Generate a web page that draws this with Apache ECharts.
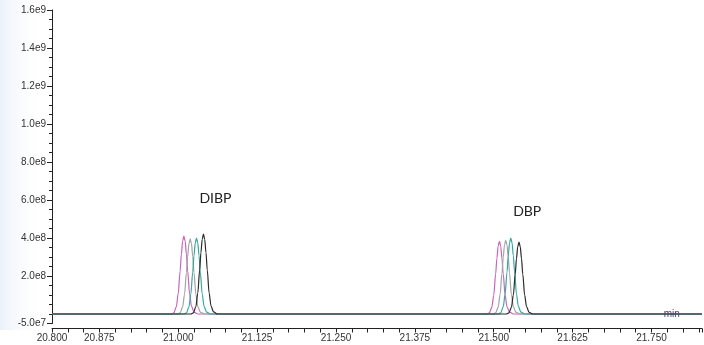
<!DOCTYPE html>
<html>
<head>
<meta charset="utf-8">
<script src="https://cdn.jsdelivr.net/npm/echarts@6/dist/echarts.min.js"></script>
<style>html,body{margin:0;padding:0;background:#fff}#c{width:704px;height:345px}</style>
</head>
<body>
<div id="c"></div>
<script>
// Retention time (min) and intensity arrays
const magentaT = [20.800,
  20.989, 20.993, 20.997, 21.000, 21.003, 21.005, 21.007, 21.009, 21.011, 21.013, 21.015, 21.018, 21.021, 21.025, 21.031,
  21.489, 21.493, 21.497, 21.500, 21.503, 21.505, 21.507, 21.509, 21.511, 21.513, 21.515, 21.518, 21.521, 21.525, 21.531,
  21.830];
const magentaV = [0,
  0, 0.06e8, 0.38e8, 1.07e8, 2.26e8, 3.15e8, 3.84e8, 4.10e8, 3.84e8, 3.15e8, 2.26e8, 1.07e8, 0.41e8, 0.10e8, 0,
  0, 0.06e8, 0.36e8, 1.00e8, 2.11e8, 2.93e8, 3.58e8, 3.82e8, 3.58e8, 2.93e8, 2.11e8, 1.00e8, 0.38e8, 0.10e8, 0,
  0];
const grayT = [20.800,
  20.999, 21.003, 21.007, 21.010, 21.013, 21.015, 21.017, 21.019, 21.021, 21.023, 21.025, 21.028, 21.031, 21.035, 21.041,
  21.499, 21.503, 21.507, 21.510, 21.513, 21.515, 21.517, 21.519, 21.521, 21.523, 21.525, 21.528, 21.531, 21.535, 21.541,
  21.830];
const grayV = [0,
  0, 0.06e8, 0.37e8, 1.03e8, 2.18e8, 3.03e8, 3.70e8, 3.95e8, 3.70e8, 3.03e8, 2.18e8, 1.03e8, 0.40e8, 0.10e8, 0,
  0, 0.06e8, 0.36e8, 1.02e8, 2.14e8, 2.98e8, 3.63e8, 3.88e8, 3.63e8, 2.98e8, 2.14e8, 1.02e8, 0.39e8, 0.10e8, 0,
  0];
const tealT = [20.800,
  21.009, 21.013, 21.017, 21.020, 21.023, 21.025, 21.027, 21.029, 21.031, 21.033, 21.035, 21.038, 21.041, 21.045, 21.051,
  21.507, 21.511, 21.515, 21.518, 21.521, 21.523, 21.525, 21.527, 21.529, 21.531, 21.533, 21.536, 21.539, 21.543, 21.549,
  21.830];
const tealV = [0,
  0, 0.06e8, 0.37e8, 1.05e8, 2.21e8, 3.07e8, 3.74e8, 4.00e8, 3.74e8, 3.07e8, 2.21e8, 1.05e8, 0.40e8, 0.10e8, 0,
  0, 0.06e8, 0.37e8, 1.05e8, 2.21e8, 3.07e8, 3.74e8, 4.00e8, 3.74e8, 3.07e8, 2.21e8, 1.05e8, 0.40e8, 0.10e8, 0,
  0];
const blackT = [20.800,
  21.020, 21.024, 21.028, 21.031, 21.034, 21.036, 21.038, 21.040, 21.042, 21.044, 21.046, 21.049, 21.052, 21.056, 21.062,
  21.520, 21.524, 21.528, 21.531, 21.534, 21.536, 21.538, 21.540, 21.542, 21.544, 21.546, 21.549, 21.552, 21.556, 21.562,
  21.830];
const blackV = [0,
  0, 0.06e8, 0.39e8, 1.10e8, 2.32e8, 3.23e8, 3.93e8, 4.20e8, 3.93e8, 3.23e8, 2.32e8, 1.10e8, 0.42e8, 0.11e8, 0,
  0, 0.06e8, 0.35e8, 0.99e8, 2.09e8, 2.91e8, 3.55e8, 3.79e8, 3.55e8, 2.91e8, 2.09e8, 0.99e8, 0.38e8, 0.09e8, 0,
  0];

const xTickLabels = [20.800, 20.875, 21.000, 21.125, 21.250, 21.375, 21.500, 21.625, 21.750];
const yTickLabels = [-5.0e7, 2.0e8, 4.0e8, 6.0e8, 8.0e8, 1.0e9, 1.2e9, 1.4e9, 1.6e9];

const peakNames = ['DIBP', 'DBP'];
const peakLabelPos = [[21.059, 6.1e8], [21.553, 5.38e8]];

function zip(t, v) { return t.map((x, i) => [x, v[i]]); }
function fmtY(v) { return Number(v).toExponential(1).replace('+', ''); }

const chart = echarts.init(document.getElementById('c'), null, {renderer: 'canvas'});
const labelFont = {fontFamily: 'Liberation Sans, Arial, sans-serif', fontSize: 10, color: '#333'};

function lineSeries(name, t, v, color, extra) {
  return Object.assign({
    name: name, type: 'line', data: zip(t, v), showSymbol: false, symbol: 'none',
    smooth: 0.3, smoothMonotone: 'x',
    lineStyle: {width: 1.2, color: color}, itemStyle: {color: color},
    animation: false, z: 3
  }, extra || {});
}

chart.setOption({
  animation: false,
  backgroundColor: '#fff',
  graphic: [{
    type: 'rect', left: 0, top: 0, z: -10,
    shape: {width: 46, height: 330},
    style: {fill: new echarts.graphic.LinearGradient(0, 0, 1, 0, [
      {offset: 0, color: 'rgba(228,236,248,0.7)'}, {offset: 1, color: 'rgba(255,255,255,0)'}])}
  }],
  grid: {left: 52, right: 2, top: 10, bottom: 21.5, containLabel: false},
  xAxis: {
    type: 'value', min: 20.8, max: 21.83, interval: 0.025, offset: 5,
    axisLine: {show: true, onZero: false, lineStyle: {color: '#222', width: 1}},
    axisTick: {show: true, length: 4, lineStyle: {color: '#222'}},
    axisLabel: Object.assign({customValues: xTickLabels, formatter: v => Number(v).toFixed(3), margin: 5}, labelFont),
    splitLine: {show: false}
  },
  yAxis: [{
    type: 'value', min: -5e7, max: 1.6e9, interval: 5e7,
    axisLine: {show: true, lineStyle: {color: '#222', width: 1}},
    axisTick: {show: true, length: 3, lineStyle: {color: '#222'}},
    axisLabel: Object.assign({customValues: yTickLabels, formatter: fmtY, margin: 6}, labelFont),
    splitLine: {show: false}
  }, {
    type: 'value', min: -5e7, max: 1.6e9, position: 'left',
    axisLine: {show: false},
    axisTick: {show: true, length: 5, customValues: yTickLabels, lineStyle: {color: '#222'}},
    axisLabel: {show: false},
    splitLine: {show: false}
  }],
  series: [
    lineSeries('s1', magentaT, magentaV, '#c964bd'),
    lineSeries('s2', grayT, grayV, '#a3a3a3'),
    lineSeries('s3', tealT, tealV, '#35a8a2'),
    lineSeries('s4', blackT, blackV, '#2b2b2b', {
      markPoint: {
        symbol: 'circle', symbolSize: 0, silent: true,
        label: {show: true, position: 'inside', formatter: '{b}', fontFamily: 'Lato, Open Sans, sans-serif', fontSize: 14, color: '#222'},
        data: peakNames.map((n, i) => ({name: n, coord: peakLabelPos[i]})).concat([
          {name: 'min', coord: [21.782, -3e6], label: {fontSize: 10, fontFamily: 'Liberation Sans, Arial, sans-serif', color: '#4a3d6a'}}
        ])
      }
    })
  ]
});
</script>
</body>
</html>
